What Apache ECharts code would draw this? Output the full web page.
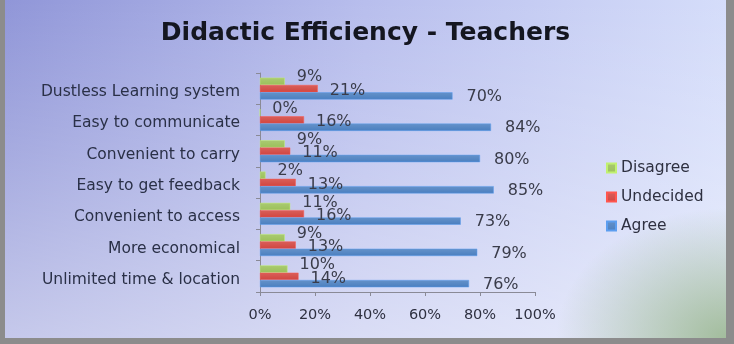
<!DOCTYPE html>
<html lang="en">
  <head>
    <meta charset="UTF-8" />
    <title>Didactic Efficiency - Teachers</title>
    <style>
      * {
        padding: 0;
        margin: 0;
      }
      html,
      body {
        width: 100%;
        height: 100%;
      }
      body {
        background: #8c8c8c;
      }
      #frame {
        position: absolute;
        left: 5px;
        top: 0;
        width: 721px;
        height: 338px;
        background:
          radial-gradient(ellipse 170px 130px at 100% 100%, rgba(150, 180, 140, 0.85), rgba(160, 190, 160, 0) 100%),
          linear-gradient(180deg, rgba(255, 255, 255, 0) 0%, rgba(255, 255, 255, 0.2) 45%, rgba(255, 255, 255, 0.48) 100%),
          linear-gradient(90deg, #9096d8 0%, #b8beed 50%, #d5ddfa 100%);
      }
      #main {
        width: 100%;
        height: 100%;
      }
    </style>
  </head>
  <body>
    <div id="frame"><div id="main"></div></div>
    <script src="https://cdn.jsdelivr.net/npm/echarts@6/dist/echarts.min.js"></script>
    <script>
      var categories = [
        'Dustless Learning system',
        'Easy to communicate',
        'Convenient to carry',
        'Easy to get feedback',
        'Convenient to access',
        'More economical',
        'Unlimited time & location'
      ];
      var disagree = [9, 0, 9, 2, 11, 9, 10];
      var undecided = [21, 16, 11, 13, 16, 13, 14];
      var agree = [70, 84, 80, 85, 73, 79, 76];
      var xTicks = [0, 20, 40, 60, 80, 100];

      var myChart = echarts.init(document.getElementById('main'));

      // one bar series, labels shifted a bit like the 3D excel chart
      function bar(name, data, color, offset, dist) {
        return {
          name: name,
          type: 'bar',
          data: data,
          barGap: '0%',
          barCategoryGap: '30%',
          itemStyle: {
            color: new echarts.graphic.LinearGradient(0, 0, 0, 1, [
              { offset: 0, color: echarts.color.lift(color, 0.15) },
              { offset: 1, color: color }
            ]),
            borderColor: echarts.color.lift(color, -0.25),
            borderWidth: 0.5
          },
          label: {
            show: true,
            position: 'right',
            distance: dist,
            offset: offset,
            formatter: '{c}%',
            color: '#3a3c4a',
            fontSize: 16,
            fontFamily: 'DejaVu Sans'
          }
        };
      }

      var option = {
        title: {
          text: 'Didactic Efficiency - Teachers',
          left: 'center',
          top: 16,
          textStyle: {
            fontFamily: 'DejaVu Sans',
            fontWeight: 'bold',
            fontSize: 25,
            color: '#141620'
          }
        },
        legend: {
          orient: 'vertical',
          left: 596,
          top: 155,
          itemWidth: 9,
          itemHeight: 9,
          itemGap: 13,
          icon: 'rect',
          textStyle: {
            fontFamily: 'DejaVu Sans',
            fontSize: 15.5,
            color: '#2e3040'
          },
          data: ['Disagree', 'Undecided', 'Agree']
        },
        grid: {
          left: 255,
          top: 73,
          width: 275,
          height: 219
        },
        xAxis: {
          type: 'value',
          min: 0,
          max: 100,
          interval: 20,
          axisLine: { show: true, lineStyle: { color: '#8a8a96' } },
          axisTick: { show: true, length: 4, lineStyle: { color: '#8a8a96' } },
          splitLine: { show: false },
          axisLabel: {
            margin: 16,
            fontFamily: 'DejaVu Sans',
            fontSize: 14.5,
            color: '#2e3040',
            formatter: function(v) {
              return xTicks.indexOf(v) >= 0 ? v + '%' : '';
            }
          }
        },
        yAxis: {
          type: 'category',
          inverse: true,
          data: categories,
          axisLine: { show: true, lineStyle: { color: '#8a8a96' } },
          axisTick: { show: true, length: 4, lineStyle: { color: '#8a8a96' } },
          axisLabel: {
            margin: 20,
            fontFamily: 'DejaVu Sans',
            fontSize: 15.5,
            color: '#2a3047',
            formatter: function(v) {
              return '{t|' + v + '}';
            },
            rich: {
              t: {
                padding: [7, 0, 0, 0],
                fontFamily: 'DejaVu Sans',
                fontSize: 15.5,
                color: '#2a3047'
              }
            }
          }
        },
        series: [
          bar('Disagree', disagree, '#9bc15a', [0, -4], 12),
          bar('Undecided', undecided, '#d2453f', [0, 2], 12),
          bar('Agree', agree, '#4a7fc0', [0, 1], 14)
        ]
      };
      myChart.setOption(option);
    </script>
  </body>
</html>
